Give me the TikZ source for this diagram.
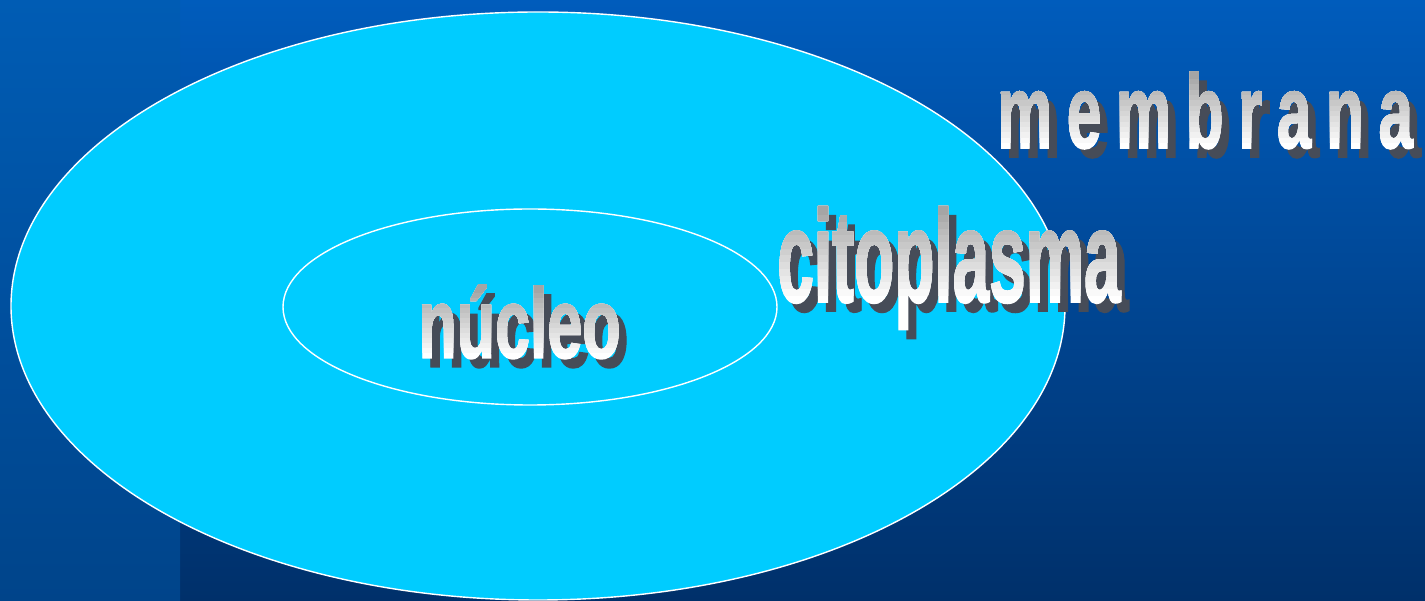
\documentclass[tikz,border=0pt]{standalone}
\usepackage{fontspec}
\setmainfont{Liberation Sans}
\newfontfamily\labelfont[FakeBold=1.5]{Liberation Sans Bold}
\newfontfamily\widelabel[FakeBold=1.5,LetterSpace=24]{Liberation Sans Bold}
\definecolor{slidetop}{RGB}{0,92,188}
\definecolor{slidebottom}{RGB}{0,48,106}
\definecolor{stripetop}{RGB}{0,92,180}
\definecolor{stripebottom}{RGB}{0,68,138}
\definecolor{cellfill}{RGB}{0,204,255}
\definecolor{lettertop}{RGB}{165,165,165}
\definecolor{lettershade}{RGB}{70,76,88}
\tikzset{
  cellwall/.style={draw=white,line width=0.8pt,fill=cellfill},
  labelshadow/.style={anchor=base west,inner sep=0pt,text=lettershade},
  labeltext/.style={anchor=base west,inner sep=0pt}
}
\newcommand{\celllabel}[7]{%
  \node[labelshadow,font=#4] at (#2+8,#3-9) {\scalebox{#5}[1]{#6}};
  \node[labeltext,font=#4,text=white] (#1) at (#2,#3) {\scalebox{#5}[1]{#6}};
  \foreach \band in {1,...,13}{
    \pgfmathtruncatemacro{\shadepct}{\band*100/13}
    \begin{scope}
      \clip (#2-20,#3+\band*#7/14) rectangle (#2+460,#3+#7+40);
      \node[labeltext,font=#4,text=lettertop!\shadepct!white] at (#2,#3) {\scalebox{#5}[1]{#6}};
    \end{scope}
  }}

\begin{document}
\begin{tikzpicture}[x=0.02cm,y=0.02cm]
		\useasboundingbox (0,0) rectangle (1425,601);
		\shade[top color=slidetop,bottom color=slidebottom] (0,0) rectangle (1425,601);
		\shade[top color=stripetop,bottom color=stripebottom] (0,0) rectangle (180,601);
		\draw[cellwall] (538,295) ellipse [x radius=527,y radius=294];
		\draw[cellwall] (530,294) ellipse [x radius=247,y radius=98];
		\celllabel{membrana}{997}{453}{\widelabel\fontsize{59.5}{60}\selectfont}{0.59}{membrana}{75}
		\celllabel{citoplasma}{777}{299}{\labelfont\fontsize{74.8}{75}\selectfont}{0.5}{citoplasma}{94}
		\celllabel{nucleo}{418}{243}{\labelfont\fontsize{56.7}{57}\selectfont}{0.63}{núcleo}{71}
\end{tikzpicture}
\end{document}
